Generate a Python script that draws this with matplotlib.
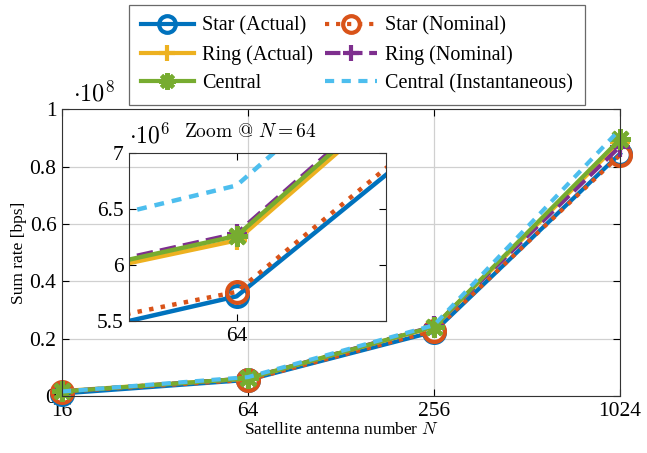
import numpy as np
import matplotlib
matplotlib.use("Agg")
from matplotlib import pyplot as plt
from matplotlib.ticker import FuncFormatter, FixedLocator, NullLocator

plt.rcParams['font.family'] = ['Liberation Serif', 'DejaVu Serif']
plt.rcParams['mathtext.fontset'] = 'cm'

# data
antennas = [16, 64, 256, 1024]
star_actual = [1.0e6, 5.72e6, 22.5e6, 84.5e6]
star_nominal = [1.6e6, 5.76e6, 22.85e6, 84.0e6]
ring_actual = [1.85e6, 6.22e6, 24.2e6, 88.5e6]
ring_nominal = [1.7e6, 6.28e6, 24.4e6, 87.0e6]
central = [1.7e6, 6.26e6, 24.3e6, 89.5e6]
central_inst = [1.7e6, 6.71e6, 24.8e6, 93.0e6]

main_yticks = [0, 0.2e8, 0.4e8, 0.6e8, 0.8e8, 1.0e8]
zoom_yticks = [5.5e6, 6.0e6, 6.5e6, 7.0e6]

blue = '#0072BD'
orange = '#D95319'
yellow = '#EDB120'
purple = '#7E2F8E'
green = '#77AC30'
lblue = '#4DBEEE'
asterisk = (8, 2, 0)

series = [
    ("Star (Actual)", star_actual, dict(color=blue, ls='-', marker='o', mfc='none')),
    ("Star (Nominal)", star_nominal, dict(color=orange, ls=':', marker='o', mfc='none')),
    ("Ring (Actual)", ring_actual, dict(color=yellow, ls='-', marker='+')),
    ("Ring (Nominal)", ring_nominal, dict(color=purple, ls='--', marker='+')),
    ("Central", central, dict(color=green, ls='-', marker=asterisk)),
    ("Central (Instantaneous)", central_inst, dict(color=lblue, ls=(0, (2.2, 1.8)), marker=None)),
]

fig = plt.figure(figsize=(6.47, 4.53), dpi=100)
ax = fig.add_axes([0.0958, 0.125, 0.8625, 0.634])

handles = []
for name, vals, st in series:
    h, = ax.plot(antennas, vals, lw=3.0, ms=15, mew=3.0, label=name, clip_on=False, **st)
    handles.append(h)

ax.set_xscale('log', base=2)
ax.set_xlim(16, 1024)
ax.set_ylim(0, 1e8)
ax.xaxis.set_major_locator(FixedLocator(antennas))
ax.xaxis.set_minor_locator(NullLocator())
ax.xaxis.set_major_formatter(FuncFormatter(lambda v, p: "%d" % v))
ax.yaxis.set_major_locator(FixedLocator(main_yticks))
ax.yaxis.set_major_formatter(FuncFormatter(lambda v, p: ("%g" % (v / 1e8))))
ax.tick_params(direction='in', labelsize=15.5, top=True, right=True, length=5, pad=4)
ax.grid(True, color='#d0d0d0', lw=0.9)
ax.set_axisbelow(True)
for s in ax.spines.values():
    s.set_color('#333333')
ax.set_xlabel("Satellite antenna number $N$", fontsize=12.5, labelpad=1)
ax.set_ylabel("Sum rate [bps]", fontsize=12.5, labelpad=2)
ax.text(0.02, 1.01, r"$\cdot 10^{8}$", transform=ax.transAxes, fontsize=17.5, va='bottom', ha='left')

# matplotlib fills legend columns first, so order handles to get row pairs
order = [0, 2, 4, 1, 3, 5]
leg = fig.legend(handles=[handles[i] for i in order], ncol=2, loc='upper center',
                 bbox_to_anchor=(0.552, 1.012),
                 fontsize=14.5, frameon=True, fancybox=False, edgecolor='#444444',
                 handlelength=2.6, columnspacing=0.6, handletextpad=0.4, labelspacing=0.45,
                 borderpad=0.6, markerscale=0.8)
leg.get_frame().set_linewidth(0.9)

# zoomed inset around N = 64
axin = fig.add_axes([0.1994, 0.2914, 0.3972, 0.3709])
axin.patch.set_alpha(0)
for name, vals, st in series:
    axin.plot(antennas, vals, lw=3.2, ms=15, mew=3.0, **st)
axin.set_xscale('log', base=2)
axin.set_xlim(60, 70)
axin.set_ylim(5.5e6, 7.0e6)
axin.xaxis.set_major_locator(FixedLocator([64]))
axin.xaxis.set_minor_locator(NullLocator())
axin.xaxis.set_major_formatter(FuncFormatter(lambda v, p: "%d" % v))
axin.yaxis.set_major_locator(FixedLocator(zoom_yticks))
axin.yaxis.set_major_formatter(FuncFormatter(lambda v, p: ("%g" % (v / 1e6))))
axin.tick_params(direction='in', labelsize=15.5, top=True, right=True, length=5, pad=4)
for s in axin.spines.values():
    s.set_color('#333333')
axin.text(0.0, 1.03, r"$\cdot 10^{6}$", transform=axin.transAxes, fontsize=17, va='bottom', ha='left')
axin.text(0.215, 1.07, r"$\mathrm{Zoom\ @\ }N = 64$", transform=axin.transAxes, fontsize=14, va='bottom', ha='left')

fig.savefig("out.png", dpi=100)
